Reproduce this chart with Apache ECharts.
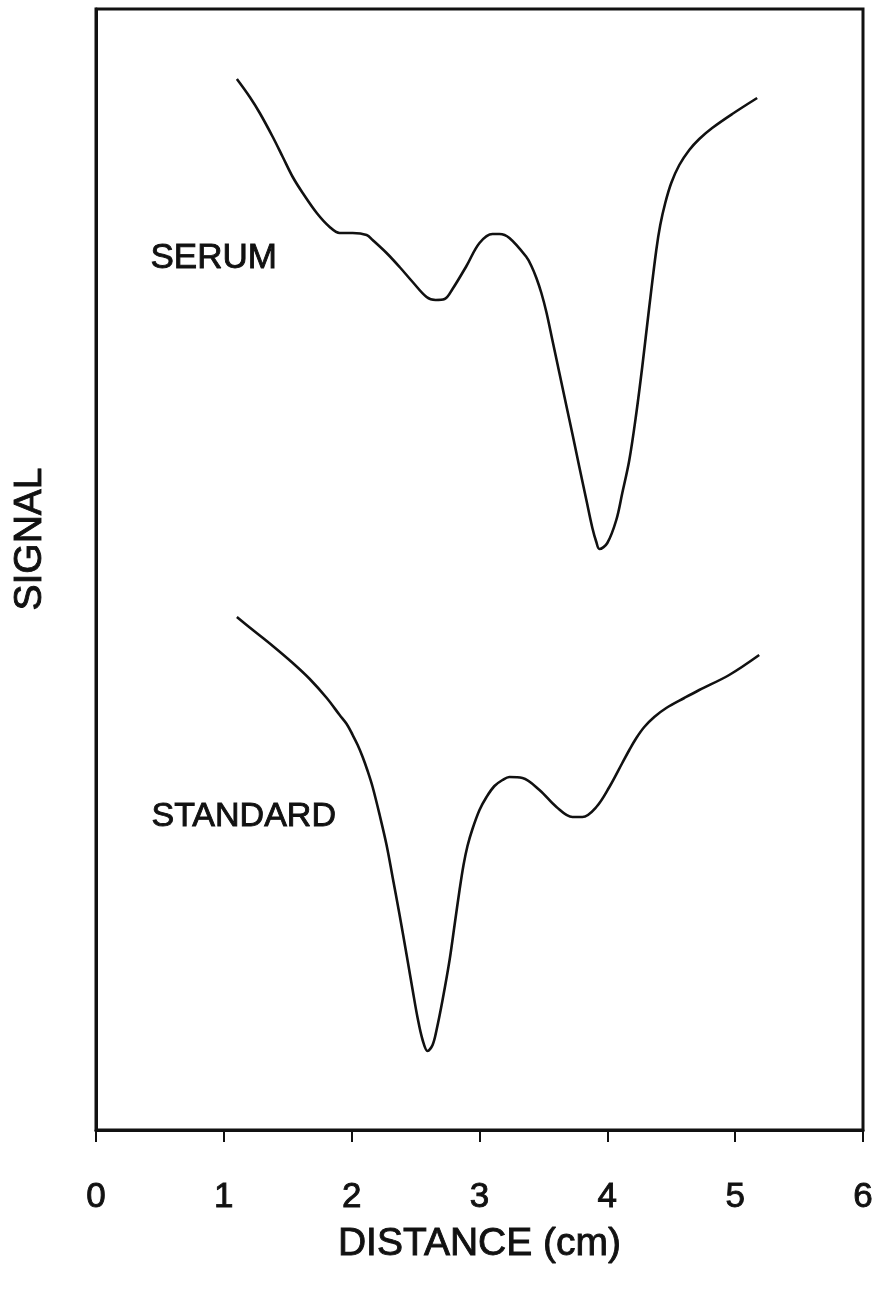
<!DOCTYPE html>
<html>
<head>
<meta charset="utf-8">
<script src="https://cdn.jsdelivr.net/npm/echarts@6/dist/echarts.min.js"></script>
<style>
  html, body { margin: 0; padding: 0; background: #fff; }
  #chart { width: 886px; height: 1299px; }
</style>
</head>
<body>
<div id="chart"></div>
<script>
// Densitometer scans: signal (arbitrary units) against migration distance in cm
const xTicks = ['0', '1', '2', '3', '4', '5', '6'];

const serumX = [1.102, 1.203, 1.281, 1.383, 1.461, 1.539, 1.617, 1.727, 1.828, 1.906, 2.008, 2.117, 2.164, 2.273, 2.375, 2.477, 2.586, 2.656, 2.727, 2.789, 2.898, 3.0, 3.102, 3.156, 3.234, 3.367, 3.406, 3.445, 3.484, 3.523, 3.570, 3.625, 3.680, 3.727, 3.781, 3.836, 3.883, 3.914, 3.938, 4.0, 4.070, 4.117, 4.172, 4.227, 4.273, 4.328, 4.383, 4.414, 4.453, 4.500, 4.563, 4.641, 4.719, 4.820, 4.977, 5.172];
const serumY = [1051, 1033, 1017, 993, 973, 953, 937, 917, 903, 897, 897, 895, 890, 877, 863, 848, 833, 830, 831, 841, 864, 887, 896, 896, 892, 873, 864, 852, 837, 818, 790, 757, 724, 696, 663, 630, 602, 588, 581, 587, 610, 637, 670, 717, 763, 823, 880, 905, 927, 947, 965, 980, 991, 1002, 1016, 1032];

const standardX = [1.102, 1.227, 1.383, 1.539, 1.672, 1.805, 1.906, 1.961, 2.008, 2.047, 2.086, 2.125, 2.164, 2.219, 2.273, 2.320, 2.375, 2.430, 2.477, 2.516, 2.555, 2.594, 2.633, 2.664, 2.711, 2.766, 2.805, 2.844, 2.875, 2.906, 2.945, 3.0, 3.055, 3.117, 3.180, 3.234, 3.336, 3.469, 3.602, 3.727, 3.805, 3.914, 4.016, 4.117, 4.172, 4.227, 4.289, 4.367, 4.461, 4.602, 4.719, 4.953, 5.188];
const standardY = [513, 500, 484, 467, 451, 432, 415, 406, 395, 385, 373, 359, 343, 315, 285, 253, 215, 175, 140, 112, 90, 79, 85, 100, 130, 170, 205, 240, 265, 284, 301, 320, 333, 344, 350, 353, 352, 340, 323, 313, 313, 323, 343, 367, 380, 392, 403, 413, 422, 432, 440, 455, 475];

const FONT = '"Liberation Sans", Arial, Helvetica, sans-serif';
const INK = '#111';

const pairs = (xs, ys) => xs.map((x, i) => [x, ys[i]]);

// medium-weight lettering: regular face with a thin outline of the same ink
const inkText = (text, size, left, top) => ({
  type: 'text', left, top,
  style: { text, font: size + 'px ' + FONT, fill: INK, stroke: INK, lineWidth: 0.9 }
});

const chart = echarts.init(document.getElementById('chart'));
chart.setOption({
  animation: false,
  backgroundColor: '#fff',
  grid: {
    left: 96, right: 23, top: 9, bottom: 169,
    show: true, borderColor: INK, borderWidth: 3, backgroundColor: 'transparent'
  },
  xAxis: {
    type: 'value', min: 0, max: 6, interval: 1,
    axisLine: { lineStyle: { color: INK, width: 3 } },
    axisTick: { inside: false, length: 12, lineStyle: { color: INK, width: 2 } },
    splitLine: { show: false },
    axisLabel: {
      margin: 50, color: INK, fontFamily: FONT, fontSize: 35,
      textBorderColor: INK, textBorderWidth: 0.9,
      formatter: v => xTicks[v]
    },
    name: 'DISTANCE (cm)', nameLocation: 'middle', nameGap: 95,
    nameTextStyle: { color: INK, fontFamily: FONT, fontSize: 39, textBorderColor: INK, textBorderWidth: 0.9 }
  },
  yAxis: {
    type: 'value', min: 0, max: 1121,
    axisLine: { show: true, lineStyle: { color: INK, width: 3 } },
    axisTick: { show: false }, axisLabel: { show: false }, splitLine: { show: false }
  },
  graphic: [
    inkText('SERUM', 35, 150, 240),
    inkText('STANDARD', 34, 151, 799),
    { type: 'text', x: 30, y: 539, rotation: Math.PI / 2,
      style: { text: 'SIGNAL', font: '39px ' + FONT, fill: INK, stroke: INK, lineWidth: 0.9,
               align: 'center', verticalAlign: 'middle' } }
  ],
  series: [
    { name: 'SERUM', type: 'line', data: pairs(serumX, serumY), showSymbol: false, smooth: 0.35,
      lineStyle: { color: INK, width: 2.6 } },
    { name: 'STANDARD', type: 'line', data: pairs(standardX, standardY), showSymbol: false, smooth: 0.35,
      lineStyle: { color: INK, width: 2.6 } }
  ]
});
</script>
</body>
</html>
